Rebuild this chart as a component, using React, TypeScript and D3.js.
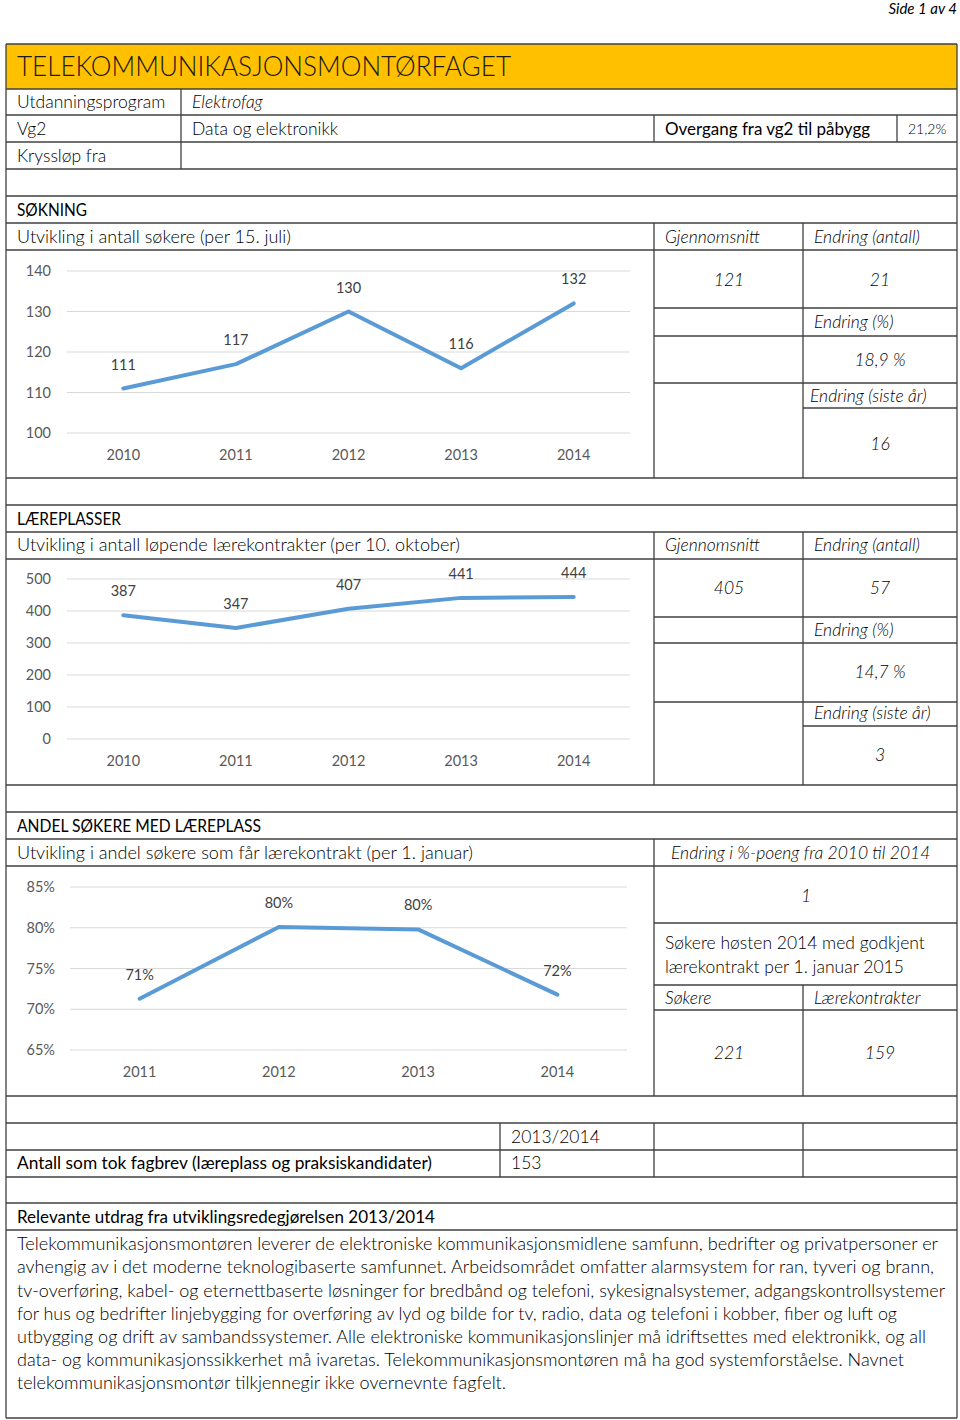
import React from 'react';
import * as d3 from 'd3';

// ---------- data ----------
const soknYears = ['2010', '2011', '2012', '2013', '2014'];
const soknValues = [111, 117, 130, 116, 132];
const soknTicks = [100, 110, 120, 130, 140];

const laereYears = ['2010', '2011', '2012', '2013', '2014'];
const laereValues = [387, 347, 407, 441, 444];
const laereTicks = [0, 100, 200, 300, 400, 500];

const andelYears = ['2011', '2012', '2013', '2014'];
const andelValues = [0.713, 0.801, 0.798, 0.718];
const andelTicks = [0.65, 0.7, 0.75, 0.8, 0.85];

const soknStats = { avg: '121', change: '21', changePct: '18,9 %', changeLast: '16' };
const laereStats = { avg: '405', change: '57', changePct: '14,7 %', changeLast: '3' };
const andelStats = { changePts: '1', sokere: '221', kontrakter: '159' };

const paragraphLines = [
  'Telekommunikasjonsmontøren leverer de elektroniske kommunikasjonsmidlene samfunn, bedrifter og privatpersoner er',
  'avhengig av i det moderne teknologibaserte samfunnet. Arbeidsområdet omfatter alarmsystem for ran, tyveri og brann,',
  'tv-overføring, kabel- og eternettbaserte løsninger for bredbånd og telefoni, sykesignalsystemer, adgangskontrollsystemer',
  'for hus og bedrifter linjebygging for overføring av lyd og bilde for tv, radio, data og telefoni i kobber, fiber og luft og',
  'utbygging og drift av sambandssystemer. Alle elektroniske kommunikasjonslinjer må idriftsettes med elektronikk, og all',
  'data- og kommunikasjonssikkerhet må ivaretas. Telekommunikasjonsmontøren må ha god systemforståelse. Navnet',
  'telekommunikasjonsmontør tilkjennegir ikke overnevnte fagfelt.',
];
const paragraphWidths = [921, 917, 928, 880, 909, 887, 489];

const FONT = "Lato, 'Open Sans', 'DejaVu Sans', sans-serif";
const LINE = '#404040';

type TProps = {
  x: number; y: number; children: React.ReactNode; anchor?: string; size?: number;
  italic?: boolean; weight?: number; fill?: string; len?: number;
};
const T = ({ x, y, children, anchor = 'start', size = 17.5, italic = false, weight = 300, fill = '#000', len }: TProps) => (
  <text
    x={x}
    y={y}
    dy="0.35em"
    textAnchor={anchor as any}
    fontSize={size}
    fontStyle={italic ? 'italic' : 'normal'}
    fontWeight={weight}
    fill={fill}
    fontFamily={FONT}
    textLength={len}
    lengthAdjust={len ? 'spacingAndGlyphs' : undefined}
  >
    {children}
  </text>
);

type ChartProps = {
  cats: string[]; vals: number[]; domain: [number, number]; ticks: number[];
  x0: number; x1: number; yTop: number; yBot: number; tickX: number; fmt: (v: number) => string;
};
function LineChart({ cats, vals, domain, ticks, x0, x1, yTop, yBot, tickX, fmt }: ChartProps) {
  const x = d3.scalePoint<string>().domain(cats).range([x0, x1]).padding(0.5);
  const y = d3.scaleLinear().domain(domain).range([yBot, yTop]);
  const line = d3
    .line<number>()
    .x((_, i) => x(cats[i]) as number)
    .y((d) => y(d));
  return (
    <g>
      {ticks.map((t) => (
        <g key={t}>
          <line x1={x0} x2={x1} y1={y(t)} y2={y(t)} stroke="#d9d9d9" strokeWidth={1.2} />
          <text x={tickX} y={y(t)} dy="0.35em" textAnchor="end" fontSize={14.5} fill="#595959" fontFamily={FONT}>
            {fmt(t)}
          </text>
        </g>
      ))}
      {cats.map((c) => (
        <text key={c} x={x(c)} y={yBot + 22} dy="0.35em" textAnchor="middle" fontSize={14.5} fill="#595959" fontFamily={FONT}>
          {c}
        </text>
      ))}
      <path d={line(vals) || ''} fill="none" stroke="#5b9bd5" strokeWidth={4} strokeLinejoin="round" strokeLinecap="round" />
      {vals.map((v, i) => (
        <text key={i} x={x(cats[i])} y={y(v) - 24} dy="0.35em" textAnchor="middle" fontSize={14.5} fill="#404040" fontFamily={FONT}>
          {fmt(v)}
        </text>
      ))}
    </g>
  );
}

export default function App() {
  const L = 6;
  const R = 957;
  const hLines: [number, number, number][] = [
    [44, L, R], [89, L, R], [115, L, R], [142, L, R], [169, L, R], [196, L, R], [223, L, R], [250, L, R],
    [478, L, R], [505, L, R], [532, L, R], [559, L, R], [785, L, R], [812, L, R], [839, L, R], [866, L, R],
    [1096, L, R], [1123, L, R], [1150, L, R], [1177, L, R], [1203, L, R], [1230, L, R], [1418, L, R],
    [308, 654, R], [336, 654, R], [383, 654, R], [408, 803, R],
    [617, 654, R], [643, 654, R], [702, 654, R], [726, 803, R],
    [923, 654, R], [985, 654, R], [1010, 654, R],
  ];
  const vLines: [number, number, number][] = [
    [L, 44, 1418], [R, 44, 1418],
    [181, 89, 169], [654, 115, 142], [897, 115, 142],
    [654, 223, 478], [803, 223, 478],
    [654, 532, 785], [803, 532, 785],
    [654, 839, 1096], [803, 985, 1096],
    [500, 1123, 1177], [654, 1123, 1177], [803, 1123, 1177],
  ];
  const pct = (v: number) => `${Math.round(v * 100)}%`;
  const num = (v: number) => `${v}`;

  return (
    <svg width={960} height={1420} style={{ position: 'absolute', left: 0, top: 0, background: '#fff' }}>
      <rect x={0} y={0} width={960} height={1420} fill="#fff" />
      <T x={957} y={9} anchor="end" size={15} italic weight={400} fill="#000">Side 1 av 4</T>
      <rect x={L} y={44} width={R - L} height={45} fill="#ffc000" />
      <T x={17} y={66} size={28} len={494} fill="#1a1a1a">TELEKOMMUNIKASJONSMONTØRFAGET</T>

      {/* top info rows */}
      <T x={17} y={102}>Utdanningsprogram</T>
      <T x={192} y={102} italic>Elektrofag</T>
      <T x={17} y={129}>Vg2</T>
      <T x={192} y={129}>Data og elektronikk</T>
      <T x={665} y={129} weight={400} fill="#000" len={205}>Overgang fra vg2 til påbygg</T>
      <T x={908} y={129} size={14}>21,2%</T>
      <T x={17} y={156}>Kryssløp fra</T>

      {/* Søkning */}
      <T x={17} y={210} weight={400} fill="#000" len={70}>SØKNING</T>
      <T x={17} y={237} len={274}>Utvikling i antall søkere (per 15. juli)</T>
      <T x={665} y={237} italic>Gjennomsnitt</T>
      <T x={814} y={237} italic>Endring (antall)</T>
      <T x={729} y={280} anchor="middle" italic>{soknStats.avg}</T>
      <T x={880} y={280} anchor="middle" italic>{soknStats.change}</T>
      <T x={814} y={322} italic>Endring (%)</T>
      <T x={880} y={360} anchor="middle" italic>{soknStats.changePct}</T>
      <T x={810} y={396} italic>Endring (siste år)</T>
      <T x={880} y={444} anchor="middle" italic>{soknStats.changeLast}</T>
      <LineChart cats={soknYears} vals={soknValues} domain={[100, 140]} ticks={soknTicks} x0={67} x1={630} yTop={271} yBot={433} tickX={51} fmt={num} />

      {/* Læreplasser */}
      <T x={17} y={519} weight={400} fill="#000" len={104}>LÆREPLASSER</T>
      <T x={17} y={545} len={443}>Utvikling i antall løpende lærekontrakter (per 10. oktober)</T>
      <T x={665} y={545} italic>Gjennomsnitt</T>
      <T x={814} y={545} italic>Endring (antall)</T>
      <T x={729} y={588} anchor="middle" italic>{laereStats.avg}</T>
      <T x={880} y={588} anchor="middle" italic>{laereStats.change}</T>
      <T x={814} y={630} italic>Endring (%)</T>
      <T x={880} y={672} anchor="middle" italic>{laereStats.changePct}</T>
      <T x={814} y={713} italic>Endring (siste år)</T>
      <T x={880} y={755} anchor="middle" italic>{laereStats.changeLast}</T>
      <LineChart cats={laereYears} vals={laereValues} domain={[0, 500]} ticks={laereTicks} x0={67} x1={630} yTop={579} yBot={739} tickX={51} fmt={num} />

      {/* Andel */}
      <T x={17} y={826} weight={400} fill="#000" len={244}>ANDEL SØKERE MED LÆREPLASS</T>
      <T x={17} y={853} len={456}>Utvikling i andel søkere som får lærekontrakt (per 1. januar)</T>
      <T x={671} y={853} italic>Endring i %-poeng fra 2010 til 2014</T>
      <T x={806} y={896} anchor="middle" italic>{andelStats.changePts}</T>
      <T x={665} y={943}>Søkere høsten 2014 med godkjent</T>
      <T x={665} y={967}>lærekontrakt per 1. januar 2015</T>
      <T x={665} y={998} italic>Søkere</T>
      <T x={814} y={998} italic>Lærekontrakter</T>
      <T x={729} y={1053} anchor="middle" italic>{andelStats.sokere}</T>
      <T x={880} y={1053} anchor="middle" italic>{andelStats.kontrakter}</T>
      <LineChart cats={andelYears} vals={andelValues} domain={[0.65, 0.85]} ticks={andelTicks} x0={70} x1={627} yTop={887} yBot={1050} tickX={55} fmt={pct} />

      {/* Fagbrev */}
      <T x={511} y={1137}>2013/2014</T>
      <T x={17} y={1163} weight={400} fill="#000" len={415}>Antall som tok fagbrev (læreplass og praksiskandidater)</T>
      <T x={511} y={1163}>153</T>

      {/* Relevante */}
      <T x={17} y={1217} weight={400} fill="#000" len={418}>Relevante utdrag fra utviklingsredegjørelsen 2013/2014</T>
      {paragraphLines.map((l, i) => (
        <T key={i} x={17} y={1244 + i * 23.2} len={paragraphWidths[i]}>{l}</T>
      ))}

      {hLines.map(([y, a, b], i) => (
        <line key={'h' + i} x1={a} x2={b} y1={y} y2={y} stroke={LINE} strokeWidth={1.3} />
      ))}
      {vLines.map(([x, a, b], i) => (
        <line key={'v' + i} x1={x} x2={x} y1={a} y2={b} stroke={LINE} strokeWidth={1.3} />
      ))}
    </svg>
  );
}
